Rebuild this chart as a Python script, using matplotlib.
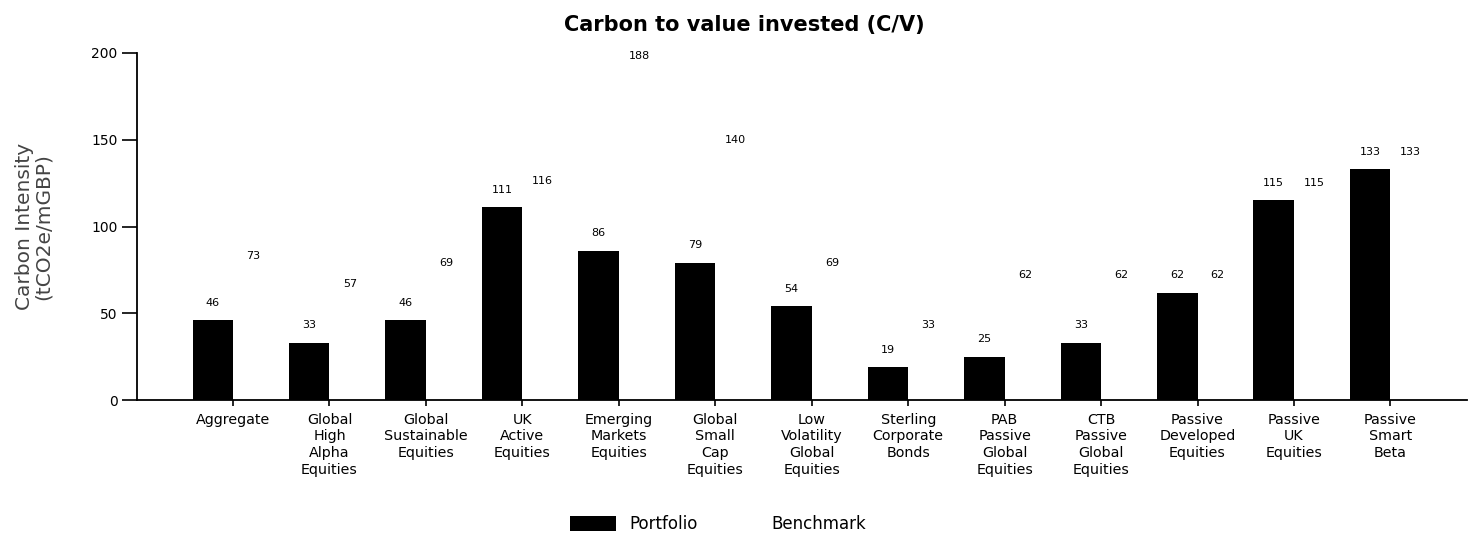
import matplotlib
matplotlib.use("Agg")
import matplotlib.pyplot as plt
import numpy as np
from matplotlib.patches import Patch

categories = ["Aggregate", "Global\nHigh\nAlpha\nEquities", "Global\nSustainable\nEquities",
              "UK\nActive\nEquities", "Emerging\nMarkets\nEquities", "Global\nSmall\nCap\nEquities",
              "Low\nVolatility\nGlobal\nEquities", "Sterling\nCorporate\nBonds",
              "PAB\nPassive\nGlobal\nEquities", "CTB\nPassive\nGlobal\nEquities",
              "Passive\nDeveloped\nEquities", "Passive\nUK\nEquities", "Passive\nSmart\nBeta"]
portfolio = [46, 33, 46, 111, 86, 79, 54, 19, 25, 33, 62, 115, 133]
benchmark = [73, 57, 69, 116, 188, 140, 69, 33, 62, 62, 62, 115, 133]
yticks = [0, 50, 100, 150, 200]

plt.rcParams['font.family'] = ['DejaVu Sans']
fig = plt.figure(figsize=(14.74, 5.4), dpi=100)
ax = fig.add_axes([0.093, 0.259, 0.902, 0.643])

x = np.arange(len(categories))
w = 0.42
ax.bar(x - w/2, portfolio, width=w, color='black', label='Portfolio')
ax.bar(x + w/2, benchmark, width=w, color='white', label='Benchmark')

for xi, v in zip(x - w/2, portfolio):
    ax.annotate(str(v), (xi, v), xytext=(0, 9), textcoords='offset points',
                ha='center', va='bottom', fontsize=8)
for xi, v in zip(x + w/2, benchmark):
    ax.annotate(str(v), (xi, v), xytext=(0, 9), textcoords='offset points',
                ha='center', va='bottom', fontsize=8)

ax.set_xlim(-0.995, 12.79)
ax.set_ylim(0, 200)
ax.set_yticks(yticks)
ax.set_xticks(x)
ax.set_xticklabels(categories, fontsize=10.3, linespacing=1.25, va='top')
ax.tick_params(axis='y', length=11, width=1.2, labelsize=10, pad=3)
ax.tick_params(axis='x', length=4, width=1.2, pad=5)
for s in ['top', 'right']:
    ax.spines[s].set_visible(False)
for s in ['left', 'bottom']:
    ax.spines[s].set_linewidth(1.3)

ax.set_ylabel("Carbon Intensity\n(tCO2e/mGBP)", fontsize=14.5, color='#444444', labelpad=28, linespacing=0.95)

fig.text(0.505, 0.953, "Carbon to value invested (C/V)", ha='center', va='center',
         fontsize=15, fontweight='bold')

handles = [Patch(facecolor='black', label='Portfolio'), Patch(facecolor='white', label='Benchmark')]
fig.legend(handles=handles, loc='center', bbox_to_anchor=(0.487, 0.03), ncol=2, frameon=False,
           fontsize=12, handlelength=2.8, handleheight=1.0, columnspacing=0.8)

fig.savefig("out.png", dpi=100)
